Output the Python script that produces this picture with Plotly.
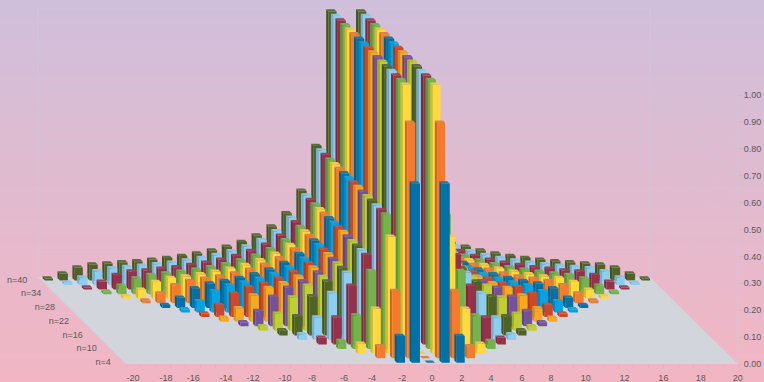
import plotly.graph_objects as go

series_n = [4, 6, 8, 10, 12, 14, 16, 18, 20, 22, 24, 26, 28, 30, 32, 34, 36, 38, 40]
# value at |x| = 1, 2, 3 ... n/2 (value at x = 0 is 0 in every series)
v4 = [.667, .10]
v6 = [.875, .25, .045]
v8 = [1, .435, .167, .037]
v10 = [1, .5, .29, .125, .03]
v12 = [1, .5, .333, .218, .10, .025]
v14 = [1, .5, .333, .25, .174, .083, .021]
v16 = [1, .5, .333, .25, .2, .145, .071, .019]
v18 = [1, .5, .333, .25, .2, .167, .124, .063, .017]
v20 = [1, .5, .333, .25, .2, .167, .143, .109, .056, .015]
v22 = [1, .5, .333, .25, .2, .167, .143, .125, .097, .05, .014]
v24 = [1, .5, .333, .25, .2, .167, .143, .125, .111, .087, .045, .013]
v26 = [1, .5, .333, .25, .2, .167, .143, .125, .111, .1, .079, .042, .012]
v28 = [1, .5, .333, .25, .2, .167, .143, .125, .111, .1, .091, .073, .038, .011]
v30 = [1, .5, .333, .25, .2, .167, .143, .125, .111, .1, .091, .083, .067, .036, .01]
v32 = [1, .5, .333, .25, .2, .167, .143, .125, .111, .1, .091, .083, .077, .062, .033, .009]
v34 = [1, .5, .333, .25, .2, .167, .143, .125, .111, .1, .091, .083, .077, .071, .058, .031, .009]
v36 = [1, .5, .333, .25, .2, .167, .143, .125, .111, .1, .091, .083, .077, .071, .067, .054, .029, .008]
v38 = [1, .5, .333, .25, .2, .167, .143, .125, .111, .1, .091, .083, .077, .071, .067, .0625, .051, .028, .008]
v40 = [1, .5, .333, .25, .2, .167, .143, .125, .111, .1, .091, .083, .077, .071, .067, .0625, .059, .048, .026, .0075]
half_values = [v4, v6, v8, v10, v12, v14, v16, v18, v20, v22, v24, v26, v28, v30, v32, v34, v36, v38, v40]

front_colors = ["#0072A8", "#F47B2E", "#FFD93D", "#72B34A", "#983049", "#8CCDF2", "#4F6228",
                "#BFCE30", "#73519C", "#F8A91E", "#CF4629", "#00A3E4"]
row_labels = ["n=4", "n=10", "n=16", "n=22", "n=28", "n=34", "n=40"]
y_ticks = [0, .1, .2, .3, .4, .5, .6, .7, .8, .9, 1]
x_tick_text = ["-20", "-18", "-16", "-14", "-12", "-10", "-8", "-6", "-4", "-2", "0", "2", "4", "6", "8", "10", "12", "16", "18", "20"]
x_tick_pos = [-20.03, -17.82, -16, -13.8, -12, -9.85, -8.04, -5.9, -4.02, -2, 0, 2, 3.95, 6.03, 7.97, 10.3, 12.9, 15.5, 18, 20.49]

W, H = 764, 382
L, R, T, B = 126, 738, 95, 364
XMIN, XMAX = -20.5, 20.5
PX_X = (R - L) / (XMAX - XMIN)
PX_Y = float(B - T)
ROWS = len(series_n)
DX = -88 / ROWS / PX_X       # oblique shift per row, in x-axis units
DY = 87 / ROWS / PX_Y        # oblique shift per row, in y-axis units
HALF_W = 0.27
BAR_DEPTH = 0.5
TEXT = "#595959"


def shade(hex_c, f, toward=None):
    r, g, b = int(hex_c[1:3], 16), int(hex_c[3:5], 16), int(hex_c[5:7], 16)
    if toward is None:
        return "rgb(%d,%d,%d)" % (r * f, g * f, b * f)
    return "rgb(%d,%d,%d)" % (r + (toward[0] - r) * f, g + (toward[1] - g) * f, b + (toward[2] - b) * f)


def pr(x, v, d):
    return x + d * DX, v + d * DY


def poly(points):
    xs, ys = [], []
    for p in points:
        a, b = pr(*p)
        xs.append(a)
        ys.append(b)
    xs.append(xs[0])
    ys.append(ys[0])
    return xs, ys


def fill_trace(xs, ys, color):
    return go.Scatter(x=xs, y=ys, mode="lines", fill="toself", fillcolor=color,
                      line=dict(width=0, color=color), hoverinfo="skip",
                      showlegend=False, cliponaxis=False)


fig = go.Figure()

# Floor
fx, fy = poly([(XMIN, 0, 0), (XMAX, 0, 0), (XMAX, 0, ROWS), (XMIN, 0, ROWS)])
fig.add_trace(fill_trace(fx, fy, "#D3D5DD"))

# Walls' grid
gx, gy = [], []
grid = "rgba(205,200,215,0.35)"
for t in y_ticks:
    for p in [(XMIN, t, ROWS), (XMAX, t, ROWS), (XMAX, t, 0)]:
        a, b = pr(*p)
        gx.append(a)
        gy.append(b)
    gx.append(None)
    gy.append(None)
fig.add_trace(go.Scatter(x=gx, y=gy, mode="lines", line=dict(width=1, color=grid),
                         hoverinfo="skip", showlegend=False, cliponaxis=False))
vx, vy = [], []
for p, q in [((XMIN, 0, ROWS), (XMIN, 1, ROWS)), ((XMAX, 0, ROWS), (XMAX, 1, ROWS)), ((XMAX, 0, 0), (XMAX, 1, 0))]:
    for a, b in (pr(*p), pr(*q)):
        vx.append(a)
        vy.append(b)
    vx.append(None)
    vy.append(None)
fig.add_trace(go.Scatter(x=vx, y=vy, mode="lines", line=dict(width=1, color="rgba(205,200,215,0.8)"),
                         hoverinfo="skip", showlegend=False, cliponaxis=False))

# Bars, back row first
for r in range(ROWS - 1, -1, -1):
    col = front_colors[r % len(front_colors)]
    half = half_values[r]
    xs = [-(i + 1) for i in range(len(half))][::-1] + [0] + [i + 1 for i in range(len(half))]
    vs = half[::-1] + [0] + half
    d0 = r + 0.5 - BAR_DEPTH / 2
    d1 = r + 0.5 + BAR_DEPTH / 2
    side = ([], [])
    top = ([], [])
    front = ([], [])
    for x, v in zip(xs, vs):
        a, b = x - HALF_W, x + HALF_W
        for bucket, pts in ((side, [(a, 0, d0), (a, v, d0), (a, v, d1), (a, 0, d1)]),
                            (top, [(a, v, d0), (b, v, d0), (b, v, d1), (a, v, d1)]),
                            (front, [(a, 0, d0), (b, 0, d0), (b, v, d0), (a, v, d0)])):
            px, py = poly(pts)
            bucket[0].extend(px + [None])
            bucket[1].extend(py + [None])
    fig.add_trace(fill_trace(side[0], side[1], shade(col, 0.85)))
    fig.add_trace(fill_trace(front[0], front[1], col))
    fig.add_trace(fill_trace(top[0], top[1], shade(col, 0.2, (150, 150, 150))))

# Depth-axis labels
lab_n = series_n[::3]
lab_x, lab_y = [], []
for n in lab_n:
    r = series_n.index(n)
    a, b = pr(XMIN, 0, r + 0.25)
    lab_x.append(a - 0.95)
    lab_y.append(b)
fig.add_trace(go.Scatter(x=lab_x, y=lab_y, mode="text", text=row_labels, textposition="middle left",
                         textfont=dict(size=9, color=TEXT, family="Liberation Sans"),
                         hoverinfo="skip", showlegend=False, cliponaxis=False))

# Vertical gradient background
bands = 96
shapes = []
c_top = (208, 191, 219)
c_bot = (242, 182, 195)
for i in range(bands):
    f = i / (bands - 1)
    c = tuple(int(round(c_top[k] + (c_bot[k] - c_top[k]) * f)) for k in range(3))
    shapes.append(dict(type="rect", xref="paper", yref="paper", layer="below",
                       x0=0, x1=1, y0=1 - (i + 1) / bands - 0.004, y1=1 - i / bands,
                       fillcolor="rgb(%d,%d,%d)" % c, line=dict(width=0)))

fig.update_layout(
    width=W, height=H, margin=dict(l=0, r=0, t=0, b=0),
    paper_bgcolor="rgb(225,186,207)", plot_bgcolor="rgba(0,0,0,0)",
    shapes=shapes, showlegend=False,
    font=dict(family="Liberation Sans", size=9, color=TEXT),
    xaxis=dict(range=[XMIN - L / PX_X, XMAX + (W - R) / PX_X], domain=[0, 1],
               anchor="free", position=(H - B) / H, automargin=False,
               tickmode="array", tickvals=x_tick_pos, ticktext=x_tick_text,
               ticks="", ticklen=0, ticklabelstandoff=7, showgrid=False, zeroline=False, showline=False,
               tickfont=dict(size=9, color=TEXT), tickangle=0,
               minor=dict(tickmode="array", tickvals=[x + 0.5 for x in range(-21, 21)],
                          ticks="outside", ticklen=3, tickcolor="#D8B4C4", tickwidth=1, showgrid=False)),
    yaxis=dict(range=[-(H - B) / PX_Y, B / PX_Y], domain=[0, 1], side="right",
               anchor="free", position=R / W, automargin=False,
               tickmode="array", tickvals=y_ticks,
               ticktext=["%.2f" % t for t in y_ticks], ticks="outside", ticklen=3,
               tickcolor="#D8B4C4", showgrid=False, zeroline=False, showline=False,
               tickfont=dict(size=9, color=TEXT)),
)
fig.write_html("out.html", config=dict(displayModeBar=False),
               post_script="document.body.style.margin='0';document.documentElement.style.margin='0';")
